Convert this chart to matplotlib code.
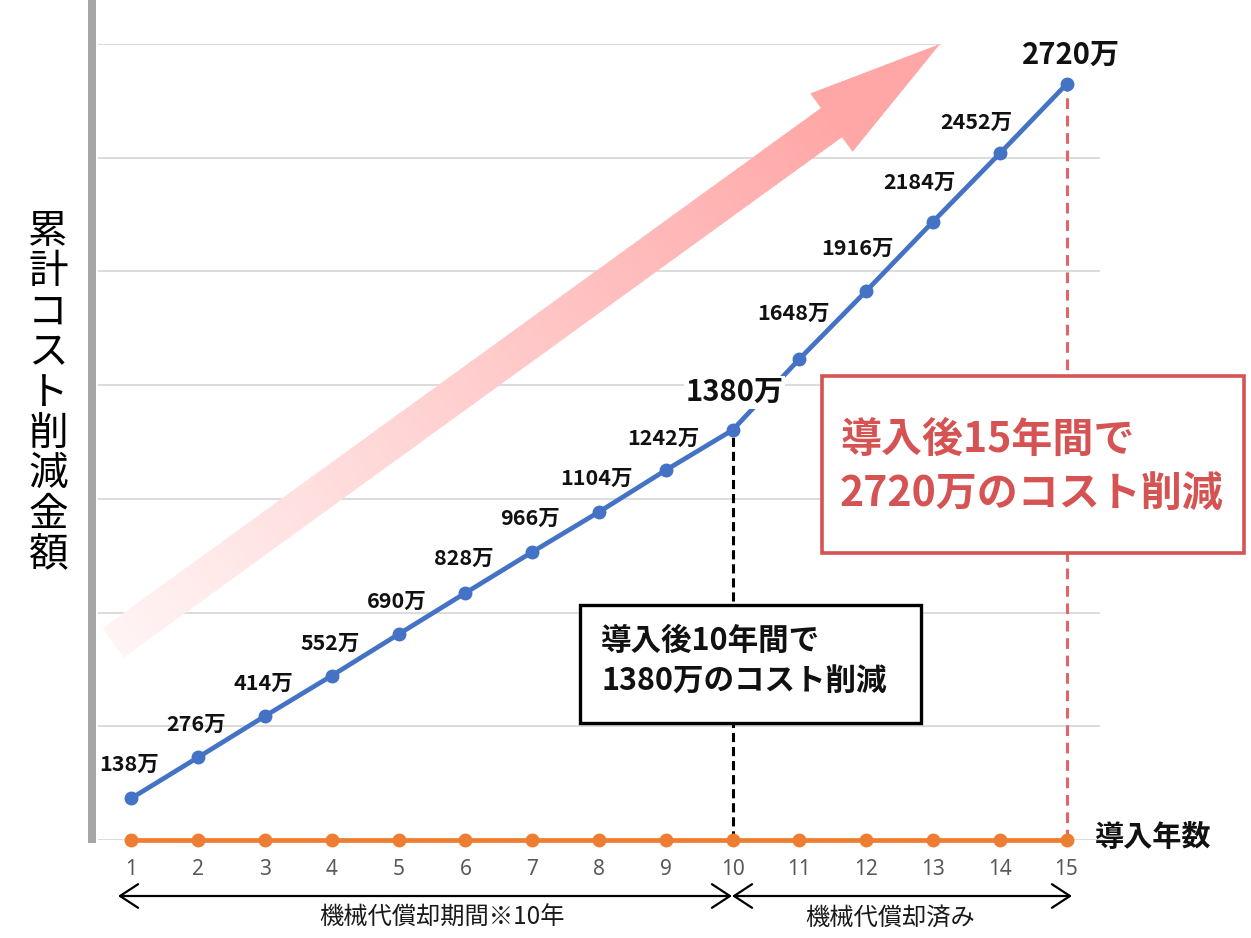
import matplotlib
matplotlib.use('Agg')
import matplotlib.pyplot as plt
from matplotlib.patches import Polygon, Rectangle
from matplotlib.transforms import Affine2D
import numpy as np

plt.rcParams['font.family'] = ['Noto Sans CJK JP', 'DejaVu Sans']

# data
years = list(range(1, 16))
savings = [147, 291, 436, 578, 724, 869, 1013, 1154, 1301, 1442,
           1692, 1931, 2175, 2415, 2659]
baseline = [0] * 15
point_labels = ['138万', '276万', '414万', '552万', '690万', '828万', '966万',
                '1104万', '1242万', '1380万', '1648万', '1916万', '2184万',
                '2452万', '2720万']
grid_levels = [0, 400, 800, 1200, 1600, 2000, 2400, 2800]
ylabel = '累計コスト削減金額'
xlabel = '導入年数'
period_labels = ['機械代償却期間※10年', '機械代償却済み']
box10_lines = ['導入後10年間で', '1380万のコスト削減']
box15_lines = ['導入後15年間で', '2720万のコスト削減']

W, H = 1251, 938
fig = plt.figure(figsize=(W / 100, H / 100), dpi=100)
ax = fig.add_axes([98 / W, 1 - 840 / H, 1002 / W, 796 / H])
ax.set_xlim(0.5, 15.5)
ax.set_ylim(0, 2800)
for s in ax.spines.values():
    s.set_visible(False)
ax.set_yticks([])
ax.set_xticks(years)
ax.tick_params(axis='x', length=0, pad=14, labelsize=15, labelcolor='#595959')
for lab in ax.get_xticklabels():
    lab.set_fontfamily('Noto Sans')

# pixel coords, origin top-left (for decorations)
px = Affine2D().scale(1 / W, -1 / H).translate(0, 1) + fig.transFigure

for g in grid_levels:
    ax.axhline(g, color='#D9D9D9', lw=1.3, zorder=0.5,
               xmax=0.84 if g == grid_levels[-1] else 1)

# big gradient arrow
T = np.array([113., 643.])
P = np.array([940., 44.])
L = np.linalg.norm(P - T)
u = (P - T) / L
n = np.array([-u[1], u[0]])
B = P - 134 * u
verts = [T - 18 * n, B - 18 * n, B - 36 * n, P, B + 36 * n, B + 18 * n, T + 18 * n]
clip = Polygon(verts, closed=True, transform=px, facecolor='none', edgecolor='none')
ax.add_patch(clip)
pink = np.array([1.0, 166 / 255, 166 / 255])
N = 90
for i in range(N):
    t0 = i / N * L
    t1 = (i + 1) / N * L + 1.5
    q = [T + t0 * u - 40 * n, T + t1 * u - 40 * n, T + t1 * u + 40 * n, T + t0 * u + 40 * n]
    a = min(1.0, 0.12 + 1.0 * (i + 0.5) / N)
    col = (1 - a) * np.ones(3) + a * pink
    strip = Polygon(q, closed=True, transform=px, facecolor=col, edgecolor='none', zorder=1)
    ax.add_patch(strip)
    strip.set_clip_path(clip)

# dashed drop lines
ax.vlines(years[9], 0, savings[9], colors='black', linestyles=(0, (3, 1.6)), lw=2.2, zorder=2)
ax.vlines(years[14], 0, savings[14], colors='#E06468', linestyles=(0, (3.5, 2.2)), lw=2.2, zorder=2)

ax.plot(years, baseline, color='#ED7D31', lw=3.4, marker='o', ms=9, zorder=4, clip_on=False)
ax.plot(years, savings, color='#4472C4', lw=3.4, marker='o', ms=9, zorder=5, clip_on=False)

# data labels
dx = [-2] * 9 + [2, -6, -9, -14, -23, 4]
dy = [34, 33, 33, 32, 33, 35, 34, 34, 32, 38, 46, 43, 39, 31, 29]
for i, (x, y, lab) in enumerate(zip(years, savings, point_labels)):
    big = i in (9, 14)
    kw = {}
    if i == 9:
        kw['bbox'] = dict(boxstyle='square,pad=0.05', fc='white', ec='none')
    ax.annotate(lab, (x, y), xytext=(dx[i], dy[i]), textcoords='offset pixels',
                ha='center', va='center', fontsize=21 if big else 15.5,
                fontweight='bold', color='#111111', zorder=6, annotation_clip=False, **kw)

# boxes
ax.add_patch(Rectangle((580, 605), 341, 118, transform=px, fc='white', ec='black',
                       lw=2.4, zorder=3, clip_on=False))
for line, yy in zip(box10_lines, [641, 682]):
    ax.text(601, yy, line, transform=px, fontsize=22, fontweight='bold',
            ha='left', va='center', color='#111111', zorder=3.5)
red = '#D65353'
ax.add_patch(Rectangle((822, 376), 422, 177, transform=px, fc='white', ec=red,
                       lw=2.6, zorder=3, clip_on=False))
for line, yy in zip(box15_lines, [440, 495]):
    ax.text(840, yy, line, transform=px, fontsize=29.5, fontweight='bold',
            ha='left', va='center', color=red, zorder=3.5)

# axis titles
ax.text(1095, 837, xlabel, transform=px, fontsize=21, fontweight='bold',
        ha='left', va='center', color='#111111')
for i, ch in enumerate(ylabel):
    ax.text(48, 232 + i * 40.4, ch, transform=px, fontsize=28.5,
            ha='center', va='center', color='black')

# thick grey left bar
ax.add_patch(Rectangle((88, 0), 8, 843, transform=px, fc='#A6A6A6', ec='none',
                       zorder=2, clip_on=False))

# period arrows
for xa, xb in [(118, 732), (732, 1072)]:
    ax.annotate('', xy=(xa, 896), xytext=(xb, 896), xycoords=px, textcoords=px,
                arrowprops=dict(arrowstyle='<->,head_length=1.3,head_width=0.85',
                                mutation_scale=10, lw=1.6, color='black',
                                shrinkA=0, shrinkB=0))
for lab, xx in zip(period_labels, [442, 890]):
    ax.text(xx, 918, lab, transform=px, fontsize=17.5, ha='center', va='center',
            color='#1a1a1a')

fig.savefig('out.png', dpi=100)
